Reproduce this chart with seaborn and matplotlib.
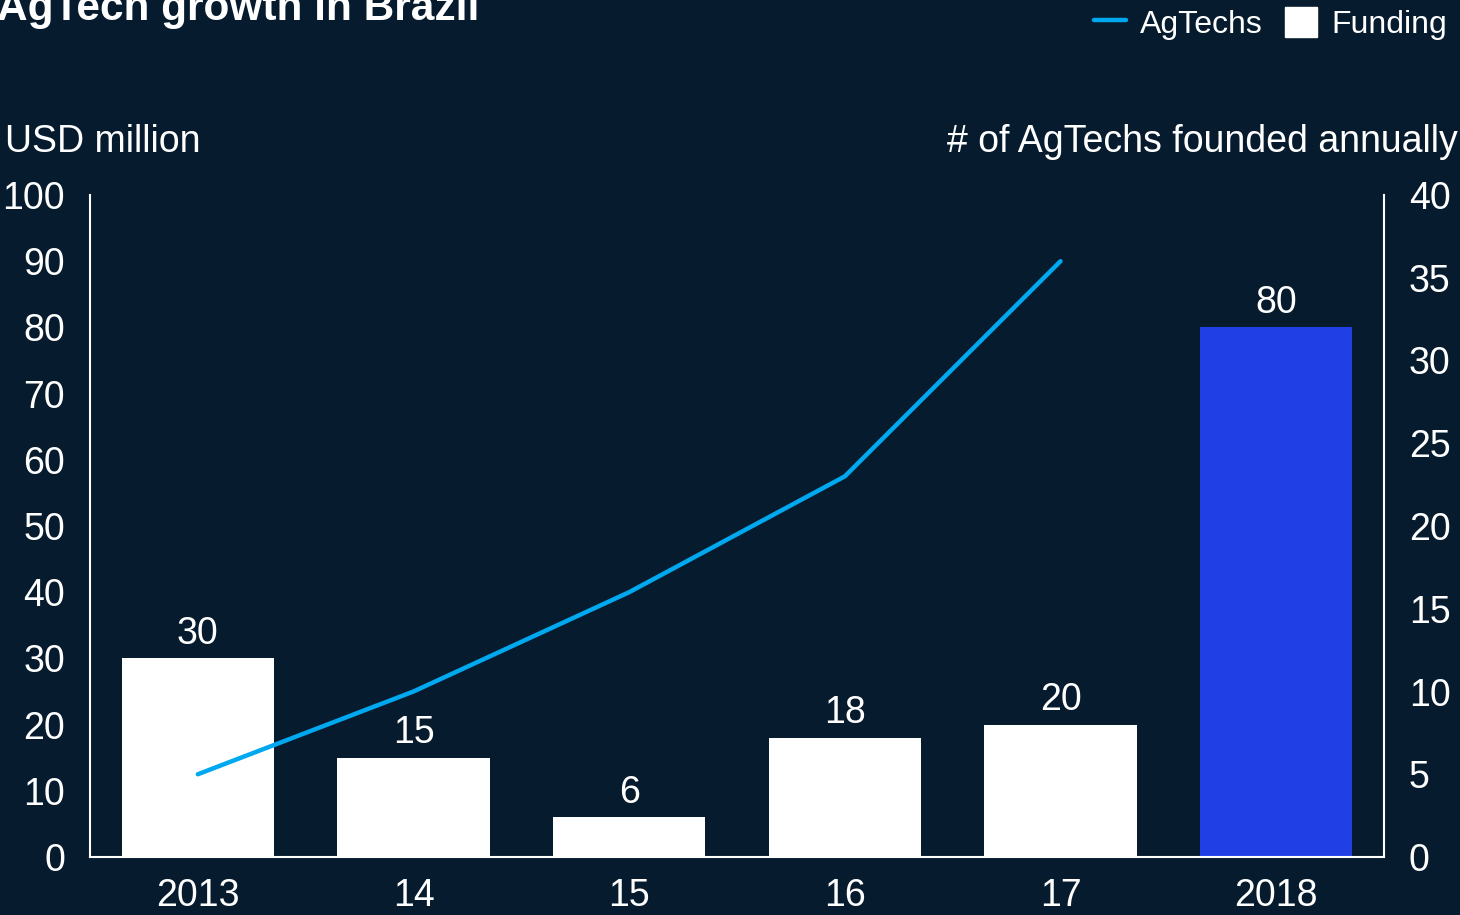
import matplotlib
matplotlib.use("Agg")
import matplotlib.pyplot as plt
import seaborn as sns
import pandas as pd
import numpy as np
from matplotlib.lines import Line2D
from matplotlib.patches import Patch

years = ["2013", "14", "15", "16", "17", "2018"]
funding = [30, 15, 6, 18, 20, 80]
agtech_years = ["2013", "14", "15", "16", "17"]
agtechs = [5, 10, 16, 23, 36]
left_ticks = [0, 10, 20, 30, 40, 50, 60, 70, 80, 90, 100]
right_ticks = [0, 5, 10, 15, 20, 25, 30, 35, 40]

BG = "#061C2E"
WHITE = "#FFFFFF"
BLUE = "#2040E6"
LINE = "#00A8F0"
FS = 27

sns.set_theme(style="white")
plt.rcParams['font.family'] = ['Liberation Sans', 'DejaVu Sans']

fig = plt.figure(figsize=(14.6, 9.15), dpi=100, facecolor=BG)
ax = fig.add_axes([90/1460, 58/915, (1384-90)/1460, (857-195)/915])
ax.set_facecolor(BG)

df = pd.DataFrame({"year": years, "funding": funding})
colors = {y: (BLUE if y == "2018" else WHITE) for y in years}
sns.barplot(data=df, x="year", y="funding", hue="year", palette=colors,
            legend=False, ax=ax, width=0.705, saturation=1, linewidth=0)
ax.set_ylim(0, 100)
ax.set_xlim(-0.5, len(years) - 0.5)
ax.set_yticks(left_ticks)
ax.set_xlabel("")
ax.set_ylabel("")
for i, v in enumerate(funding):
    ax.text(i, v + 1.0, f"{v}", ha="center", va="bottom", color=WHITE, fontsize=FS)

ax2 = ax.twinx()
ldf = pd.DataFrame({"x": np.arange(len(agtech_years)), "n": agtechs})
sns.lineplot(data=ldf, x="x", y="n", ax=ax2, color=LINE, linewidth=3.2,
             solid_capstyle="round")
ax2.set_ylim(0, 40)
ax2.set_yticks(right_ticks)
ax2.set_xlabel("")
ax2.set_ylabel("")

for a in (ax, ax2):
    a.spines["top"].set_visible(False)
    for s in ("left", "right", "bottom"):
        a.spines[s].set_color(WHITE)
        a.spines[s].set_linewidth(1.5)
    a.tick_params(colors=WHITE, labelsize=FS, length=0)
ax.spines["right"].set_visible(False)
ax2.spines["left"].set_visible(False)
ax2.spines["bottom"].set_visible(False)
ax.tick_params(axis="y", pad=18)
ax.tick_params(axis="x", pad=15)
ax2.tick_params(axis="y", pad=18)
for t in ax.get_xticklabels() + ax.get_yticklabels() + ax2.get_yticklabels():
    t.set_color(WHITE)

fig.text(5/1460, 1 - 142/915, "USD million", color=WHITE, fontsize=FS,
         ha="left", va="center")
fig.text(1458/1460, 1 - 142/915, "# of AgTechs founded annually", color=WHITE,
         fontsize=FS, ha="right", va="center")
fig.text(-3/1460, 1 - 20/915, "AgTech growth in Brazil", color=WHITE,
         fontsize=30.5, fontweight="bold", ha="left", va="baseline")

handles = [Line2D([0], [0], color=LINE, linewidth=3.2, solid_capstyle="round"),
           Patch(facecolor=WHITE, edgecolor=WHITE)]
leg = fig.legend(handles, ["AgTechs", "Funding"], loc="upper right",
                 bbox_to_anchor=(1.011, 1.024), ncol=2, frameon=False,
                 fontsize=23, labelcolor=WHITE, handlelength=1.0,
                 handletextpad=0.45, columnspacing=0.7, handleheight=1.1)

fig.savefig("out.png", dpi=100, facecolor=BG)
